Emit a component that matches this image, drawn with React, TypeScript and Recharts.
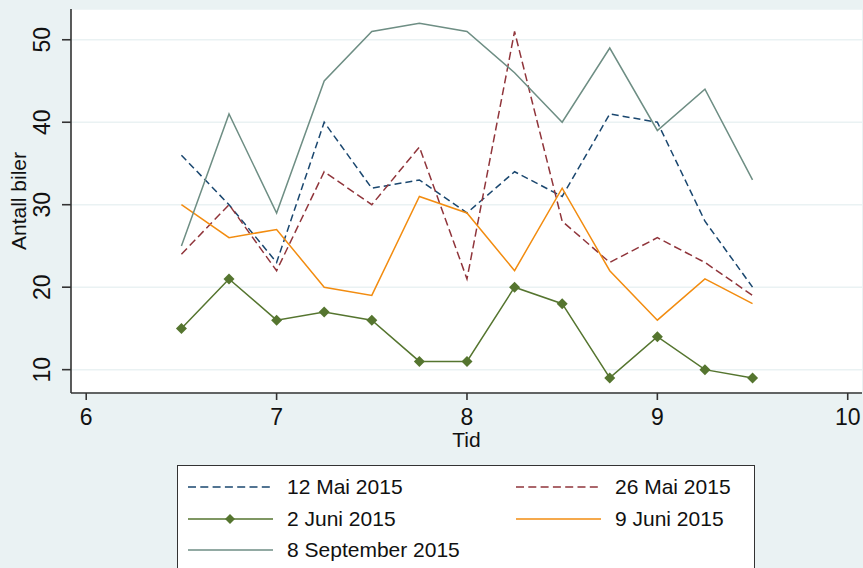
import { LineChart, Line, XAxis, YAxis, CartesianGrid } from "recharts";

// timepoints (hours) shared by every series
const tid = [6.5, 6.75, 7, 7.25, 7.5, 7.75, 8, 8.25, 8.5, 8.75, 9, 9.25, 9.5];

const mai12 = [36, 30, 23, 40, 32, 33, 29, 34, 31, 41, 40, 28, 20];
const mai26 = [24, 30, 22, 34, 30, 37, 21, 51, 28, 23, 26, 23, 19];
const juni2 = [15, 21, 16, 17, 16, 11, 11, 20, 18, 9, 14, 10, 9];
const juni9 = [30, 26, 27, 20, 19, 31, 29, 22, 32, 22, 16, 21, 18];
const sep8 = [25, 41, 29, 45, 51, 52, 51, 46, 40, 49, 39, 44, 33];

const xTicks = [6, 7, 8, 9, 10];
const yTicks = [10, 20, 30, 40, 50];

const BG = "#eaf2f3";
const FONT = "'Liberation Sans', Arial, sans-serif";

const series = [
  { key: "mai12", name: "12 Mai 2015", color: "#1a476f", dash: "7 4", marker: false },
  { key: "mai26", name: "26 Mai 2015", color: "#90353b", dash: "8 4", marker: false },
  { key: "juni2", name: "2 Juni 2015", color: "#55752f", dash: undefined, marker: true },
  { key: "juni9", name: "9 Juni 2015", color: "#f28c10", dash: undefined, marker: false },
  { key: "sep8", name: "8 September 2015", color: "#6e8e84", dash: undefined, marker: false },
];

const data = tid.map((t, i) => ({
  tid: t,
  mai12: mai12[i],
  mai26: mai26[i],
  juni2: juni2[i],
  juni9: juni9[i],
  sep8: sep8[i],
}));

function Diamond(props: any) {
  const { cx, cy, index } = props;
  if (cx == null || cy == null) return null;
  const r = 5.5;
  return (
    <polygon
      key={`d-${index}`}
      points={`${cx},${cy - r} ${cx + r},${cy} ${cx},${cy + r} ${cx - r},${cy}`}
      fill="#55752f"
    />
  );
}

function YTick(props: any) {
  const { x, y, payload } = props;
  return (
    <text
      x={x - 18}
      y={y}
      transform={`rotate(-90, ${x - 18}, ${y})`}
      textAnchor="middle"
      dominantBaseline="central"
      fontSize={23}
      fontFamily={FONT}
      fill="#111"
    >
      {payload.value}
    </text>
  );
}

function XTick(props: any) {
  const { x, y, payload } = props;
  return (
    <text x={x} y={y + 23} textAnchor="middle" fontSize={23} fontFamily={FONT} fill="#111">
      {payload.value}
    </text>
  );
}

function LegendBox() {
  const rows = [
    [series[0], series[1]],
    [series[2], series[3]],
    [series[4]],
  ];
  return (
    <div
      style={{
        position: "absolute",
        left: 177,
        top: 465,
        width: 578,
        height: 120,
        background: "#fff",
        border: "1.5px solid #333",
        boxSizing: "border-box",
        fontFamily: FONT,
        fontSize: 21,
        color: "#111",
      }}
    >
      {rows.map((row, ri) =>
        row.map((s, ci) => (
          <div
            key={s.key}
            style={{
              position: "absolute",
              left: ci === 0 ? 9 : 337,
              top: 7 + ri * 31.7,
              display: "flex",
              alignItems: "center",
              height: 28,
              whiteSpace: "nowrap",
            }}
          >
            <svg width={87} height={14} style={{ marginRight: 13 }}>
              <line
                x1={1}
                y1={7}
                x2={86}
                y2={7}
                stroke={s.color}
                strokeWidth={1.6}
                strokeDasharray={s.dash ? "8 4.3" : undefined}
              />
              {s.marker && <polygon points="43,2 48,7 43,12 38,7" fill={s.color} />}
            </svg>
            <span>{s.name}</span>
          </div>
        ))
      )}
    </div>
  );
}

export default function App() {
  return (
    <div
      style={{
        position: "absolute",
        left: 0,
        top: 0,
        width: 863,
        height: 568,
        background: BG,
        overflow: "hidden",
      }}
    >
      <LineChart
        width={863}
        height={568}
        data={data}
        margin={{ top: 9, right: 1, left: 0, bottom: 115 }}
      >
        <CartesianGrid
          vertical={false}
          fill="#fff"
          stroke={BG}
          strokeWidth={1.5}
        />
        <XAxis
          dataKey="tid"
          type="number"
          domain={[5.92, 10.075]}
          ticks={xTicks}
          allowDataOverflow
          height={60}
          tickSize={7}
          tick={<XTick />}
          axisLine={{ stroke: "#333", strokeWidth: 1.6 }}
          tickLine={{ stroke: "#333", strokeWidth: 1.6 }}
          label={{
            value: "Tid",
            position: "insideTop",
            offset: 39,
            fontSize: 21,
            fontFamily: FONT,
            fill: "#111",
          }}
        />
        <YAxis
          type="number"
          domain={[7.17, 53.73]}
          ticks={yTicks}
          allowDataOverflow
          width={71}
          tickSize={9}
          tick={<YTick />}
          axisLine={{ stroke: "#333", strokeWidth: 1.6 }}
          tickLine={{ stroke: "#333", strokeWidth: 1.6 }}
          label={{
            value: "Antall biler",
            angle: -90,
            position: "insideLeft",
            offset: 19,
            style: { textAnchor: "middle" },
            fontSize: 21,
            fontFamily: FONT,
            fill: "#111",
          }}
        />
        {series.map((s) => (
          <Line
            key={s.key}
            type="linear"
            dataKey={s.key}
            name={s.name}
            stroke={s.color}
            strokeWidth={1.5}
            strokeDasharray={s.dash}
            dot={s.marker ? <Diamond /> : false}
            activeDot={false}
            isAnimationActive={false}
          />
        ))}
      </LineChart>
      <LegendBox />
    </div>
  );
}
